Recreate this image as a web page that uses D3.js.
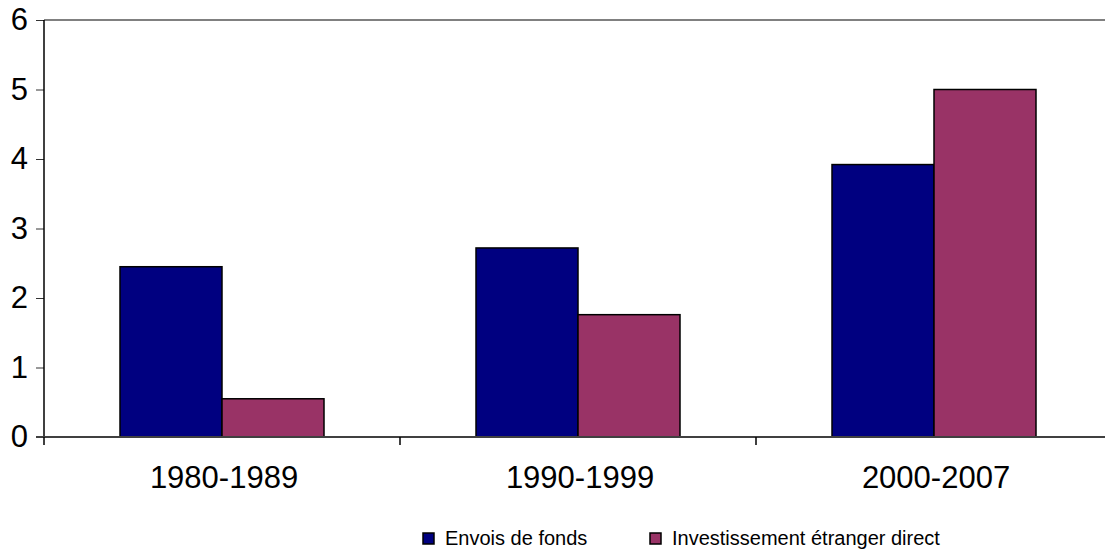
<!DOCTYPE html>
<html>
<head>
<meta charset="utf-8">
<script src="https://cdn.jsdelivr.net/npm/d3@7"></script>
<style>
  body { margin: 0; background: #fff; }
  text { font-family: "Liberation Sans", Arial, sans-serif; fill: #000; }
</style>
</head>
<body>
<div id="chart"></div>
<script>
var categories = ["1980-1989", "1990-1999", "2000-2007"];
var seriesNames = ["Envois de fonds", "Investissement étranger direct"];
var envois = [2.45, 2.72, 3.92];
var ide = [0.55, 1.76, 5.0];
var yTicks = [0, 1, 2, 3, 4, 5, 6];
var colors = ["#000080", "#993366"];

var width = 1105, height = 550;
var plotLeft = 44, plotRight = 1112, plotTop = 20, plotBottom = 437;

var svg = d3.select("#chart").append("svg")
	.attr("width", width)
	.attr("height", height);

var x = d3.scaleBand()
	.domain(categories)
	.range([plotLeft, plotRight]);

var xs = d3.scaleBand()
	.domain(seriesNames)
	.range([0, 204]);

var y = d3.scaleLinear()
	.domain([0, 6])
	.range([plotBottom, plotTop]);

// top border of plot area
svg.append("line")
	.attr("x1", plotLeft).attr("x2", width)
	.attr("y1", y(6)).attr("y2", y(6))
	.style("stroke", "#808080").style("stroke-width", 2);

// bars
var rows = categories.map(function (c, i) {
	return [
		{ cat: c, s: seriesNames[0], v: envois[i], col: colors[0] },
		{ cat: c, s: seriesNames[1], v: ide[i], col: colors[1] }
	];
});

var groups = svg.selectAll("g.grp")
	.data(rows)
	.enter()
	.append("g")
	.attr("class", "grp")
	.attr("transform", function (d, i) {
		return "translate(" + (x(categories[i]) + (x.bandwidth() - 204) / 2) + ",0)";
	});

groups.selectAll("rect")
	.data(function (d) { return d; })
	.enter()
	.append("rect")
	.attr("x", function (d) { return xs(d.s); })
	.attr("width", xs.bandwidth())
	.attr("y", function (d) { return y(d.v); })
	.attr("height", function (d) { return y(0) - y(d.v); })
	.style("fill", function (d) { return d.col; })
	.style("stroke", "#000")
	.style("stroke-width", 1.5);

// y axis
var yAxis = svg.append("g")
	.attr("transform", "translate(" + plotLeft + ",0)")
	.call(d3.axisLeft(y).tickValues(yTicks).tickSize(8).tickPadding(8).tickFormat(d3.format("d")));
yAxis.select(".domain").remove();
yAxis.selectAll(".tick line").style("stroke", "#333");
yAxis.selectAll("text")
	.style("font-size", "31px")
	.style("font-family", "Liberation Sans, Arial, sans-serif");
svg.append("line")
	.attr("x1", plotLeft).attr("x2", plotLeft)
	.attr("y1", y(6)).attr("y2", y(0))
	.style("stroke", "#000").style("stroke-width", 1.5);

// x axis
svg.append("line")
	.attr("x1", plotLeft - 8).attr("x2", width)
	.attr("y1", y(0)).attr("y2", y(0))
	.style("stroke", "#404040").style("stroke-width", 2);

svg.selectAll("line.xt")
	.data(categories.slice(1))
	.enter()
	.append("line")
	.attr("class", "xt")
	.attr("x1", function (d) { return x(d); })
	.attr("x2", function (d) { return x(d); })
	.attr("y1", y(0)).attr("y2", y(0) + 8)
	.style("stroke", "#000").style("stroke-width", 1.5);
svg.append("line")
	.attr("x1", plotLeft).attr("x2", plotLeft)
	.attr("y1", y(0)).attr("y2", y(0) + 8)
	.style("stroke", "#000").style("stroke-width", 1.5);

svg.selectAll("text.xl")
	.data(categories)
	.enter()
	.append("text")
	.attr("class", "xl")
	.attr("x", function (d) { return x(d) + x.bandwidth() / 2 + 2; })
	.attr("y", 488)
	.attr("text-anchor", "middle")
	.style("font-size", "31px")
	.text(function (d) { return d; });

// legend
var legX = [423, 650];
var leg = svg.selectAll("g.leg")
	.data(seriesNames)
	.enter()
	.append("g")
	.attr("class", "leg")
	.attr("transform", function (d, i) { return "translate(" + legX[i] + ",533)"; });
leg.append("rect")
	.attr("width", 11).attr("height", 11)
	.style("fill", function (d, i) { return colors[i]; })
	.style("stroke", "#000").style("stroke-width", 1.5);
leg.append("text")
	.attr("x", 22).attr("y", 12)
	.style("font-size", "20px")
	.text(function (d) { return d; });
</script>
</body>
</html>
